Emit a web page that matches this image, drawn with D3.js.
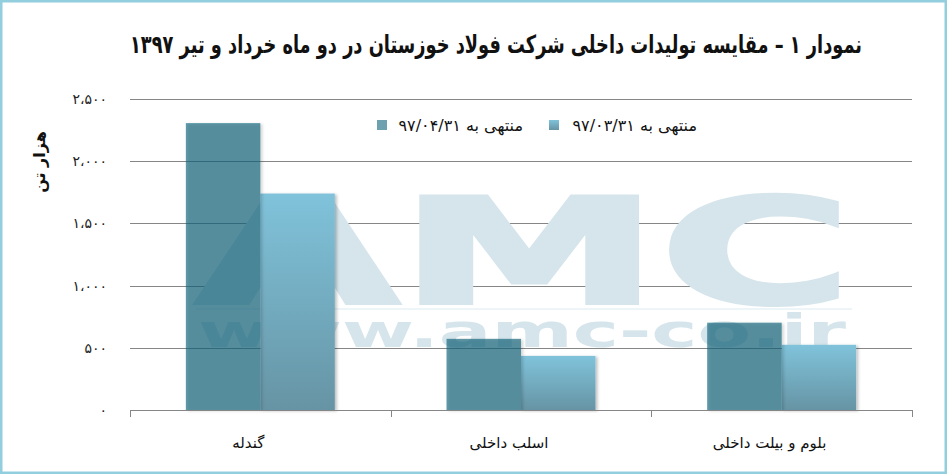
<!DOCTYPE html>
<html><head><meta charset="utf-8">
<script src="https://cdn.jsdelivr.net/npm/d3@7"></script>
<style>html,body{margin:0;padding:0;background:#fff;}svg{display:block;}</style>
</head><body>
<script>
const categories = ["گندله", "اسلب داخلی", "بلوم و بیلت داخلی"];
const seriesNames = ["منتهی به ۹۷/۰۴/۳۱", "منتهی به ۹۷/۰۳/۳۱"];
const tirValues = [2306, 572, 702];
const khordadValues = [1740, 435, 524];
const yTicks = [0, 500, 1000, 1500, 2000, 2500];
const yTickLabels = ["۰", "۵۰۰", "۱،۰۰۰", "۱،۵۰۰", "۲،۰۰۰", "۲،۵۰۰"];
const titleText = "نمودار ۱ –  مقایسه تولیدات داخلی شرکت فولاد خوزستان در دو ماه خرداد و تیر ۱۳۹۷";
const yAxisTitle = "هزار تن";

const W = 947, H = 474;
const svg = d3.select("body").append("svg").attr("width", W).attr("height", H);
const defs = svg.append("defs");
const grad = defs.append("linearGradient").attr("id", "lightGrad").attr("x1", 0).attr("y1", 0).attr("x2", 0).attr("y2", 1);
grad.append("stop").attr("offset", "0%").attr("stop-color", "#80c3db");
grad.append("stop").attr("offset", "100%").attr("stop-color", "#6694a4");
const sh = defs.append("filter").attr("id", "sh").attr("x", "-20%").attr("y", "-5%").attr("width", "140%").attr("height", "110%");
sh.append("feDropShadow").attr("dx", 2).attr("dy", 1).attr("stdDeviation", 1.5).attr("flood-color", "#000").attr("flood-opacity", 0.25);

svg.append("rect").attr("x", 1.25).attr("y", 1.25).attr("width", W - 2.5).attr("height", H - 2.5)
  .attr("fill", "#fff").attr("stroke", "#93cedf").attr("stroke-width", 2.5);

const x = d3.scaleBand().domain(categories).range([130, 912]).paddingInner(0).paddingOuter(0);
const xs = d3.scaleBand().domain(seriesNames).range([0, x.bandwidth()]).paddingInner(0).paddingOuter(0.75);
const y = d3.scaleLinear().domain([0, 2500]).range([410, 99]);

// title
svg.append("text").attr("x", 496).attr("y", 53).attr("text-anchor", "middle")
  .attr("textLength", 732).attr("lengthAdjust", "spacingAndGlyphs")
  .attr("font-family", "DejaVu Sans").attr("font-weight", "bold").attr("font-size", 25)
  .attr("fill", "#111").text(titleText);

// gridlines
svg.append("g").selectAll("line").data(yTicks.slice(1)).join("line")
  .attr("x1", 130).attr("x2", 912).attr("y1", d => Math.round(y(d)) + 0.5).attr("y2", d => Math.round(y(d)) + 0.5)
  .attr("stroke", "#868686").attr("stroke-width", 1);

// y tick labels
svg.append("g").selectAll("text").data(yTicks).join("text")
  .attr("x", 107).attr("y", d => y(d) + 5).attr("text-anchor", "end")
  .attr("font-family", "DejaVu Sans").attr("font-size", 14).attr("letter-spacing", 1.5).attr("fill", "#222")
  .text((d, i) => yTickLabels[i]);

// y title
svg.append("text").attr("transform", "translate(45,162) rotate(-90)").attr("text-anchor", "middle")
  .attr("font-family", "DejaVu Sans").attr("font-weight", "bold").attr("font-size", 16).attr("fill", "#111")
  .text(yAxisTitle);

// watermark
const wm = svg.append("g").attr("fill", "#d5e5eb");
wm.append("text").attr("x", 196).attr("y", 303).attr("textLength", 656).attr("lengthAdjust", "spacingAndGlyphs")
  .attr("font-family", "DejaVu Sans").attr("font-weight", "bold").attr("font-size", 146).attr("stroke", "#d5e5eb").attr("stroke-width", 4).text("AMC");
wm.append("rect").attr("x", 196).attr("y", 308).attr("width", 656).attr("height", 2).attr("fill", "#eef5f8");
wm.append("text").attr("x", 198).attr("y", 347).attr("textLength", 648).attr("lengthAdjust", "spacingAndGlyphs")
  .attr("font-family", "DejaVu Sans").attr("font-weight", "bold").attr("font-size", 46).text("www.amc-co.ir");

// bars
const groups = svg.append("g").selectAll("g").data(categories).join("g")
  .attr("transform", d => `translate(${x(d)},0)`);
groups.append("rect").attr("x", xs(seriesNames[1])).attr("width", xs.bandwidth())
  .attr("y", (d, i) => y(khordadValues[i])).attr("height", (d, i) => y(0) - y(khordadValues[i]))
  .attr("fill", "url(#lightGrad)").attr("filter", "url(#sh)");
groups.append("rect").attr("x", xs(seriesNames[0])).attr("width", xs.bandwidth())
  .attr("y", (d, i) => y(tirValues[i])).attr("height", (d, i) => y(0) - y(tirValues[i]))
  .attr("fill", "#0b637b").attr("fill-opacity", 0.66).attr("filter", "url(#sh)");

// x axis baseline and ticks
svg.append("line").attr("x1", 130).attr("x2", 912).attr("y1", 410.5).attr("y2", 410.5).attr("stroke", "#868686");
const tickXs = categories.map(c => x(c)).concat([x.range()[1]]);
svg.append("g").selectAll("line").data(tickXs).join("line")
  .attr("x1", d => Math.round(d) + 0.5).attr("x2", d => Math.round(d) + 0.5).attr("y1", 410).attr("y2", 417)
  .attr("stroke", "#868686");
svg.append("g").selectAll("text").data(categories).join("text")
  .attr("x", d => x(d) + x.bandwidth() / 2 - 12).attr("y", 448).attr("text-anchor", "middle")
  .attr("font-family", "DejaVu Sans").attr("font-size", 15).attr("fill", "#111").text(d => d);

// legend
const legend = [
  {name: seriesNames[0], sx: 377, tx: 523, fill: "#0b637b", op: 0.6},
  {name: seriesNames[1], sx: 549, tx: 697, fill: "url(#lightGrad)", op: 1}
];
const lg = svg.append("g").selectAll("g").data(legend).join("g");
lg.append("rect").attr("x", d => d.sx).attr("y", 120).attr("width", 10).attr("height", 10)
  .attr("fill", d => d.fill).attr("fill-opacity", d => d.op);
lg.append("text").attr("x", d => d.tx).attr("y", 131).attr("text-anchor", "end")
  .attr("font-family", "DejaVu Sans").attr("font-size", 16).attr("fill", "#111").text(d => d.name);
</script>
</body></html>
